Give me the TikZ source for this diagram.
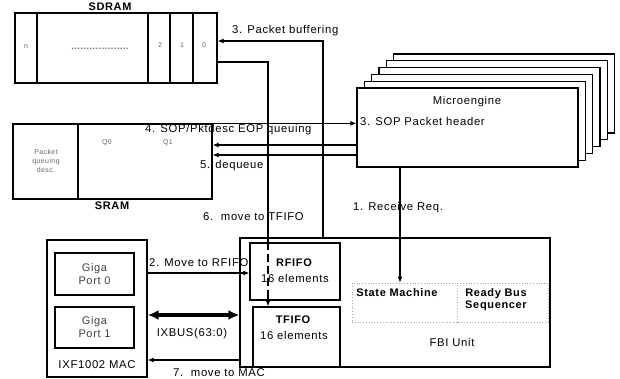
\documentclass[tikz,border=0pt]{standalone}
\usepackage{fontspec}
\setmainfont{Liberation Sans}[LetterSpace=6]
\usetikzlibrary{arrows.meta,calc}
\begin{document}
\begin{tikzpicture}[x=1pt,y=-1pt,
  box/.style={draw, line width=1.3pt, inner sep=0pt},
  divl/.style={line width=1.3pt},
  conn/.style={line width=1.1pt},
  arr/.style={conn,-{Latex[length=6pt,width=5pt]}},
  lbl/.style={font=\fontsize{11.3}{12}\selectfont, inner sep=0pt},
  bl/.style={font=\bfseries\fontsize{11}{12}\selectfont, inner sep=0pt},
  small/.style={font=\fontsize{7}{8}\selectfont, text=black!60, inner sep=0pt},
  tw/.style={align=center, font=\fontsize{11}{13}\selectfont, inner sep=0pt}
]
\useasboundingbox (0,0) rectangle (620,379);

% SDRAM
\node[box, minimum width=202pt, minimum height=70pt] (sdram) at (116,48) {};
\foreach \xx in {37,148,170,193} \draw[divl] (\xx,0 |- sdram.north) -- (\xx,0 |- sdram.south);
\node[bl] (sdramlbl) at (110,7) {SDRAM};
\node[small] (c1) at (26,47) {n};
\node[small, font=\bfseries\fontsize{9}{9}\selectfont] (cd) at (100,49) {...................};
\node[small] (c3) at (160,45) {2};
\node[small] (c4) at (182,45) {1};
\node[small] (c5) at (204,45) {0};

% Microengine stack
\foreach \i in {5,...,1}
  \draw[box, fill=white] ({357+7.3*\i},{88-6.8*\i}) rectangle ({578+7.3*\i},{167-6.8*\i});
\node[box, fill=white, minimum width=221pt, minimum height=79pt] (me) at (467.5,127.5) {};
\node[lbl] (metext) at (467,102) {Microengine};
\node[lbl, anchor=west] (hdr) at (360,121) {3. SOP Packet header};

% SRAM
\node[box, minimum width=199pt, minimum height=75pt] (sram) at (112.5,161.5) {};
\draw[divl] (78,0 |- sram.north) -- (78,0 |- sram.south);
\node[bl] (sramlbl) at (112,206) {SRAM};
\node[small, align=center, font=\fontsize{7}{9}\selectfont] (qd) at (46,161) {Packet\\queuing\\desc.};
\node[small] (q0) at (107,143) {Q0};
\node[small] (q1) at (168,143) {Q1};

% MAC
\node[box, minimum width=100pt, minimum height=137pt] (mac) at (97,308.5) {};
\node[box, minimum width=79pt, minimum height=42pt] (gp0) at (94.5,274) {};
\node[tw, text=black!75] (gp0t) at (94.5,274) {Giga\\Port 0};
\node[box, minimum width=79pt, minimum height=41pt] (gp1) at (94.5,327.5) {};
\node[tw, text=black!75] (gp1t) at (94.5,327.5) {Giga\\Port 1};
\node[lbl] (macl) at (97,365) {IXF1002 MAC};

% FBI unit
\node[box, minimum width=310pt, minimum height=129pt] (fbi) at (395,302.5) {};
\node[box, fill=white, minimum width=90pt, minimum height=57pt] (rfifo) at (295,271.5) {};
\node[box, fill=white, minimum width=87pt, minimum height=60pt] (tfifo) at (296.5,337) {};
\node[bl] (rf1) at (294,263) {RFIFO};
\node[lbl] (rf2) at (295,278) {16 elements};
\node[bl] (tf1) at (293,320) {TFIFO};
\node[lbl] (tf2) at (294,335) {16 elements};
\node[draw=black!35, dotted, line width=0.8pt, minimum width=196pt, minimum height=39pt, inner sep=0pt] (rbs) at (450,302.5) {};
\draw[black!35, dotted, line width=0.8pt] (457,0 |- rbs.north) -- (457,0 |- rbs.south);
\node[bl] (smt) at (397,293) {State Machine};
\node[bl, align=center] (rbt) at (496,300) {Ready Bus\\Sequencer};
\node[lbl] (fbit) at (452,342) {FBI Unit};

% connectors
\draw[arr] (323,0 |- fbi.north) -- (323,41) -- (sdram.east |- 0,41);
\node[lbl, anchor=west] (l3) at (232,31) {3. Packet buffering};

\draw[conn] (sdram.east |- 0,62) -| (268,0 |- rfifo.north);
\draw[conn, dash pattern=on 8pt off 4pt] (268,0 |- rfifo.north) -- (268,294);
\draw[arr] (268,293) -- (268,0 |- tfifo.north);
\node[lbl, anchor=west] (l6) at (203,217) {6.\ \ move to TFIFO};

\draw[arr] (sram.north east) -- (me.west |- sram.north east);
\draw[arr] (me.west |- 0,145) -- (sram.east |- 0,145);
\draw[arr] (me.west |- 0,155) -- (sram.east |- 0,155);
\node[lbl, anchor=west] (l4) at (145,130) {4. SOP/Pktdesc EOP queuing};
\node[lbl, anchor=west] (l5) at (200,166) {5. dequeue};

\draw[arr] (400,0 |- me.south) -- (400,0 |- rbs.north);
\node[lbl, anchor=west] (l1) at (353,208) {1. Receive Req.};

\draw[arr] (mac.east |- 0,273) -- (rfifo.west |- 0,273);
\node[lbl, anchor=west] (l2) at (149,263) {2. Move to RFIFO};

\draw[line width=4pt, {Latex[length=11pt,width=10pt]}-{Latex[length=11pt,width=10pt]}] (mac.east |- 0,315) -- (fbi.west |- 0,315);
\node[lbl] (lix) at (192,334) {IXBUS(63:0)};

\draw[arr] (fbi.west |- 0,360) -- (mac.east |- 0,360);
\node[lbl, anchor=west] (l7) at (173,373) {7.\ \ move to MAC};
\end{tikzpicture}
\end{document}
